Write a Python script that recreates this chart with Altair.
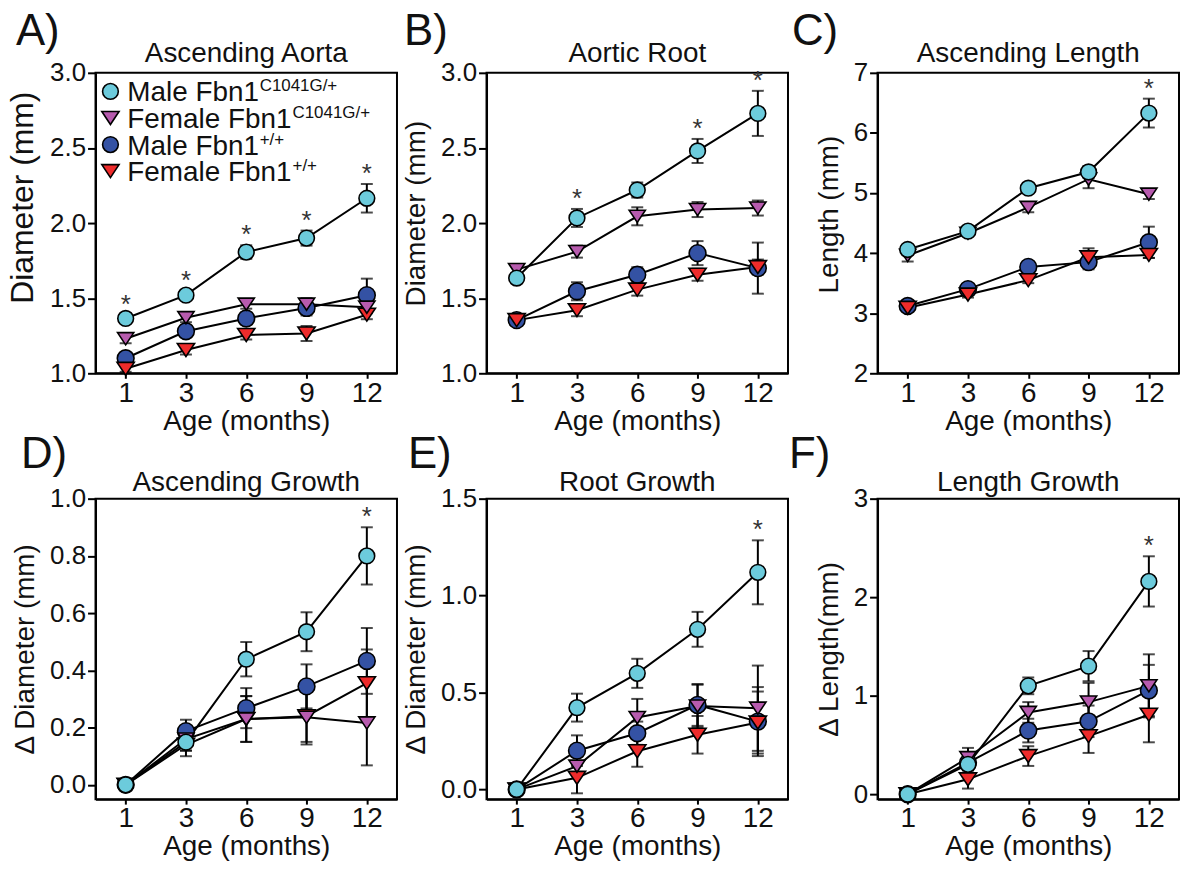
import altair as alt
import pandas as pd

AGES = ["1", "3", "6", "9", "12"]
GROUPS = ["Male Fbn1 C1041G/+", "Female Fbn1 C1041G/+", "Male Fbn1 +/+", "Female Fbn1 +/+"]
LEG_MAIN = ["Male Fbn1", "Female Fbn1", "Male Fbn1", "Female Fbn1"]
LEG_SUP = ["C1041G/+", "C1041G/+", "+/+", "+/+"]
COLORS = ["#6ccbdc", "#b75bae", "#3452a4", "#ee2b2b"]
TRI = "M-1,-0.75L1,-0.75L0,0.75Z"
SHAPES = ["circle", TRI, "circle", TRI]
SIZES = [250, 300, 250, 300]
DRAW = [2, 3, 1, 0]

# order of inner lists: Male C1041G/+, Female C1041G/+, Male +/+, Female +/+
A_MEAN = [[1.365, 1.52, 1.807, 1.90, 2.165],
          [1.23, 1.37, 1.46, 1.46, 1.44],
          [1.10, 1.28, 1.365, 1.435, 1.52],
          [1.03, 1.155, 1.255, 1.265, 1.39]]
A_ERR = [[0.02, 0.03, 0.045, 0.05, 0.095],
         [0.03, 0.03, 0.03, 0.04, 0.04],
         [0.03, 0.04, 0.04, 0.05, 0.11],
         [0.02, 0.03, 0.03, 0.05, 0.03]]
A_SIG = [1, 1, 1, 1, 1]

B_MEAN = [[1.634, 2.034, 2.22, 2.48, 2.73],
          [1.69, 1.81, 2.045, 2.09, 2.10],
          [1.354, 1.546, 1.656, 1.80, 1.70],
          [1.354, 1.42, 1.557, 1.656, 1.707]]
B_ERR = [[0.03, 0.06, 0.05, 0.08, 0.15],
         [0.03, 0.04, 0.06, 0.05, 0.05],
         [0.03, 0.06, 0.05, 0.08, 0.17],
         [0.03, 0.04, 0.04, 0.04, 0.05]]
B_SIG = [0, 1, 0, 1, 1]

C_MEAN = [[4.06, 4.365, 5.08, 5.35, 6.33],
          [3.96, 4.33, 4.76, 5.23, 4.98],
          [3.12, 3.40, 3.77, 3.85, 4.18],
          [3.09, 3.31, 3.55, 3.93, 3.97]]
C_ERR = [[0.05, 0.05, 0.05, 0.10, 0.24],
         [0.10, 0.05, 0.08, 0.15, 0.08],
         [0.05, 0.05, 0.07, 0.12, 0.26],
         [0.05, 0.05, 0.05, 0.15, 0.05]]
C_SIG = [0, 0, 0, 0, 1]

D_MEAN = [[0.0, 0.149, 0.439, 0.535, 0.80],
          [0.0, 0.16, 0.23, 0.236, 0.216],
          [0.0, 0.1875, 0.268, 0.344, 0.433],
          [0.0, 0.14, 0.23, 0.24, 0.355]]
D_ERR = [[0.0, 0.03, 0.06, 0.068, 0.10],
         [0.0, 0.04, 0.08, 0.095, 0.148],
         [0.0, 0.04, 0.07, 0.077, 0.115],
         [0.0, 0.04, 0.08, 0.09, 0.118]]
D_SIG = [0, 0, 0, 0, 1]

E_MEAN = [[0.0, 0.422, 0.599, 0.826, 1.12],
          [0.0, 0.12, 0.371, 0.43, 0.419],
          [0.0, 0.20, 0.29, 0.436, 0.35],
          [0.0, 0.06, 0.197, 0.282, 0.345]]
E_ERR = [[0.0, 0.072, 0.075, 0.09, 0.165],
         [0.0, 0.05, 0.096, 0.11, 0.22],
         [0.0, 0.079, 0.06, 0.108, 0.178],
         [0.0, 0.08, 0.08, 0.097, 0.16]]
E_SIG = [0, 0, 0, 0, 1]

F_MEAN = [[0.0, 0.303, 1.10, 1.30, 2.16],
          [0.0, 0.37, 0.83, 0.935, 1.10],
          [0.0, 0.32, 0.646, 0.74, 1.053],
          [0.0, 0.151, 0.387, 0.589, 0.807]]
F_ERR = [[0.0, 0.12, 0.085, 0.153, 0.255],
         [0.0, 0.10, 0.105, 0.195, 0.32],
         [0.0, 0.08, 0.12, 0.16, 0.26],
         [0.0, 0.094, 0.10, 0.17, 0.28]]
F_SIG = [0, 0, 0, 0, 1]

TXT = "#111111"
W, H = 303, 302


def make_df(means, errs, sig):
    rows = []
    for gi in DRAW:
        for ai, age in enumerate(AGES):
            m = means[gi][ai]
            e = errs[gi][ai]
            rows.append(dict(age=age, ix=ai, group=GROUPS[gi], mean=m, lo=m - e,
                             hi=m + e, err=e, sig=1 if (gi == 0 and sig[ai]) else 0))
    return pd.DataFrame(rows)


def panel(means, errs, sig, title, ytitle, ydom, yticks, yfmt, letter,
          letter_x, letter_y, title_off, ytitle_size=28, title_y=None, legend=False):
    df = make_df(means, errs, sig)
    xenc = alt.X("age:O", sort=AGES, scale=alt.Scale(type="point", padding=0.5),
                 axis=alt.Axis(title="Age (months)", labelAngle=0))
    ax_kw = dict(title=ytitle, values=yticks, format=yfmt, titleFontSize=ytitle_size)
    if title_y is not None:
        ax_kw["titleY"] = title_y
    yaxis = alt.Axis(**ax_kw)
    yscale = alt.Scale(domain=ydom, nice=False, zero=False)

    def yenc(f):
        return alt.Y(f, scale=yscale, axis=yaxis)

    base = alt.Chart(df)
    lines = base.mark_line(color="black", strokeWidth=2).encode(
        x=xenc, y=yenc("mean:Q"), detail="group:N", order="ix:Q")
    errd = base.transform_filter("datum.err > 0")
    bars = errd.mark_rule(color="black", strokeWidth=2).encode(
        x=xenc, y=yenc("lo:Q"), y2="hi:Q")
    cap_hi = errd.mark_tick(color="black", thickness=2, size=12).encode(x=xenc, y=yenc("hi:Q"))
    cap_lo = errd.mark_tick(color="black", thickness=2, size=12).encode(x=xenc, y=yenc("lo:Q"))
    pts = base.mark_point(filled=True, opacity=1, stroke="black", strokeWidth=1.6).encode(
        x=xenc, y=yenc("mean:Q"),
        fill=alt.Fill("group:N", scale=alt.Scale(domain=GROUPS, range=COLORS), legend=None),
        shape=alt.Shape("group:N", scale=alt.Scale(domain=GROUPS, range=SHAPES), legend=None),
        size=alt.Size("group:N", scale=alt.Scale(domain=GROUPS, range=SIZES), legend=None),
    )
    stars = base.transform_filter("datum.sig == 1").mark_text(
        text="*", fontSize=26, color="#333333", baseline="middle", dy=-10).encode(
        x=xenc, y=yenc("hi:Q"))
    lab = alt.Chart(pd.DataFrame({"t": [letter], "ttl": [title]}))
    letter_mark = lab.mark_text(
        fontSize=44, align="left", baseline="alphabetic", color=TXT).encode(
        text="t:N", x=alt.value(letter_x), y=alt.value(letter_y))
    title_mark = lab.mark_text(
        fontSize=28, align="center", baseline="alphabetic", color=TXT).encode(
        text="ttl:N", x=alt.value(W / 2), y=alt.value(-title_off))
    layers = [lines, bars, cap_hi, cap_lo, pts, stars, letter_mark, title_mark]
    if legend:
        for i in range(4):
            bl = 28.7 + i * 26.7
            one = alt.Chart(pd.DataFrame({"t": [LEG_MAIN[i]], "s": [LEG_SUP[i]]}))
            layers.append(one.mark_point(filled=True, opacity=1, stroke="black", strokeWidth=1.6).encode(
                x=alt.value(15), y=alt.value(bl - 10), fill=alt.value(COLORS[i]),
                shape=alt.value(SHAPES[i]), size=alt.value(SIZES[i])))
            layers.append(one.mark_text(fontSize=28, align="left", baseline="alphabetic", color=TXT).encode(
                text="t:N", x=alt.value(32), y=alt.value(bl)))
            sx = 165 if LEG_MAIN[i].startswith("Male") else 198
            layers.append(one.mark_text(fontSize=17, align="left", baseline="alphabetic", color=TXT).encode(
                text="s:N", x=alt.value(sx), y=alt.value(bl - 10)))
    return alt.layer(*layers).properties(width=W, height=H)


pA = panel(A_MEAN, A_ERR, A_SIG, "Ascending Aorta", "Diameter (mm)", [1.0, 3.0],
           [1.0, 1.5, 2.0, 2.5, 3.0], ".1f", "A)", -80, -28, 11, ytitle_size=32, title_y=125, legend=True)
pB = panel(B_MEAN, B_ERR, B_SIG, "Aortic Root", "Diameter (mm)", [1.0, 3.0],
           [1.0, 1.5, 2.0, 2.5, 3.0], ".1f", "B)", -83, -28, 11, title_y=141)
pC = panel(C_MEAN, C_ERR, C_SIG, "Ascending Length", "Length (mm)", [2, 7],
           [2, 3, 4, 5, 6, 7], "d", "C)", -86, -28, 11, title_y=142)
pD = panel(D_MEAN, D_ERR, D_SIG, "Ascending Growth", "\u0394 Diameter (mm)", [-0.05, 1.0],
           [0.0, 0.2, 0.4, 0.6, 0.8, 1.0], ".1f", "D)", -75, -31, 8)
pE = panel(E_MEAN, E_ERR, E_SIG, "Root Growth", "\u0394 Diameter (mm)", [-0.05, 1.5],
           [0.0, 0.5, 1.0, 1.5], ".1f", "E)", -79, -31, 8)
pF = panel(F_MEAN, F_ERR, F_SIG, "Length Growth", "\u0394 Length(mm)", [-0.05, 3.0],
           [0, 1, 2, 3], "d", "F)", -89, -31, 8)

chart = alt.concat(pA, pB, pC, pD, pE, pF, columns=3,
                   spacing={"row": 126, "column": 90}, bounds="flush").properties(
    padding={"left": 5, "top": 7, "right": 0, "bottom": 0}
).configure(font="Liberation Sans").configure_view(
    stroke="black", strokeWidth=2
).configure_axis(
    grid=False, domainColor="black", domainWidth=2, tickColor="black", tickWidth=2,
    labelColor=TXT, titleColor=TXT, titleFontWeight="normal", labelFont="Liberation Sans",
    titleFont="Liberation Sans"
).configure_axisX(
    labelFontSize=28, tickSize=5, labelPadding=1, titleFontSize=28, titlePadding=0
).configure_axisY(
    labelFontSize=26, tickSize=8, labelPadding=2, titlePadding=10
)

chart.save("out.html", embed_options={"renderer": "svg", "actions": False})
